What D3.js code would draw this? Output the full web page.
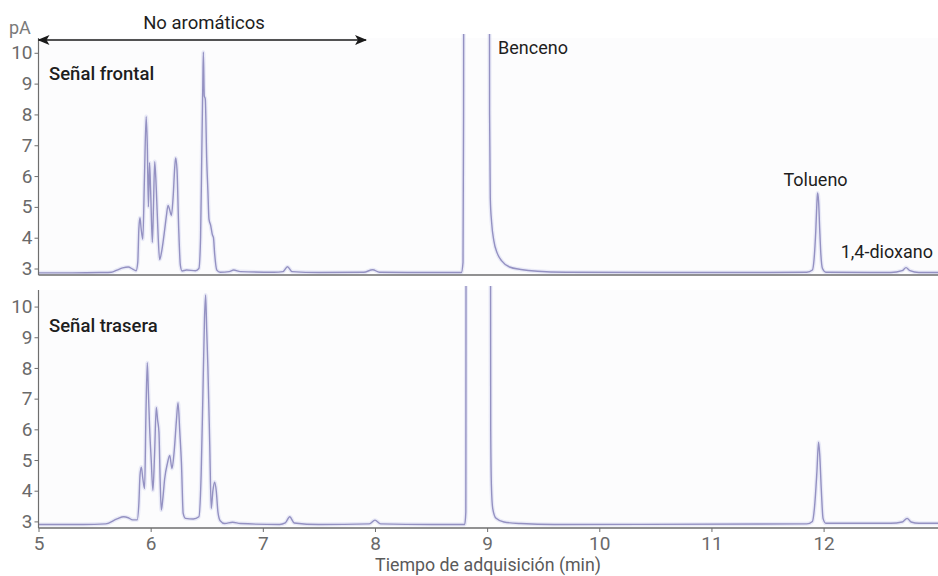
<!DOCTYPE html>
<html>
<head>
<meta charset="utf-8">
<script src="https://cdn.jsdelivr.net/npm/d3@7"></script>
<style>
  html, body { margin: 0; padding: 0; background: #ffffff; }
  svg { display: block; font-family: Roboto, "Noto Sans", sans-serif; }
</style>
</head>
<body>
<svg id="chart" width="938" height="576"></svg>
<script>
// Retention time (min) and detector signal (pA) for the front channel
const frontTime = [
  5.00, 5.30, 5.55, 5.65, 5.70, 5.75, 5.80, 5.84, 5.87, 5.885, 5.895, 5.905, 5.915, 5.93,
  5.945, 5.96, 5.97, 5.98, 5.99, 6.00, 6.015, 6.025, 6.036, 6.05, 6.065, 6.08, 6.10, 6.125,
  6.14, 6.155, 6.17, 6.185, 6.20, 6.215, 6.223, 6.235, 6.25, 6.265, 6.28, 6.32, 6.40, 6.43,
  6.445, 6.455, 6.465, 6.47, 6.478, 6.487, 6.50, 6.51, 6.52, 6.535, 6.55, 6.56, 6.57, 6.59,
  6.62, 6.70, 6.74, 6.80, 7.10, 7.18, 7.22, 7.26, 7.50, 7.90, 7.98, 8.04, 8.50, 8.77,
  8.785, 8.79, 8.795, 9.015, 9.022, 9.028, 9.04, 9.06, 9.09, 9.13, 9.20, 9.30, 9.45, 9.70,
  10.50, 11.50, 11.85, 11.90, 11.915, 11.93, 11.94, 11.946, 11.955, 11.965, 11.975, 11.99,
  12.02, 12.60, 12.70, 12.735, 12.77, 12.85, 13.02
];
const frontSignal = [
  2.86, 2.86, 2.87, 2.88, 2.95, 3.02, 3.05, 2.98, 2.93, 3.20, 4.30, 4.65, 4.30, 3.95,
  6.00, 7.93, 7.00, 5.00, 6.43, 5.50, 3.85, 5.00, 6.47, 5.60, 4.20, 3.29, 3.60, 4.26,
  4.70, 5.05, 4.90, 4.72, 5.30, 6.30, 6.59, 6.20, 4.30, 3.10, 2.92, 2.95, 2.93, 3.00,
  4.00, 6.50, 9.00, 10.02, 8.60, 8.50, 6.50, 5.55, 4.60, 4.40, 4.10, 4.00, 3.50, 2.95,
  2.88, 2.90, 2.95, 2.90, 2.88, 2.90, 3.06, 2.90, 2.87, 2.88, 2.96, 2.88, 2.87, 2.87,
  3.20, 8.00, 30.0, 30.0, 8.00, 5.30, 4.50, 3.90, 3.50, 3.25, 3.05, 2.97, 2.91, 2.88,
  2.87, 2.87, 2.88, 2.95, 3.30, 4.20, 5.10, 5.45, 5.20, 4.30, 3.50, 3.00,
  2.88, 2.87, 2.93, 3.03, 2.93, 2.87, 2.87
];

// Retention time (min) and detector signal (pA) for the rear channel
const rearTime = [
  5.00, 5.40, 5.60, 5.70, 5.76, 5.80, 5.84, 5.88, 5.895, 5.905, 5.917, 5.93, 5.946, 5.958,
  5.97, 5.98, 5.99, 6.005, 6.02, 6.035, 6.05, 6.062, 6.074, 6.085, 6.095, 6.11, 6.125, 6.15,
  6.17, 6.19, 6.21, 6.23, 6.244, 6.26, 6.275, 6.29, 6.31, 6.38, 6.43, 6.45, 6.465, 6.48,
  6.49, 6.50, 6.51, 6.527, 6.54, 6.555, 6.57, 6.585, 6.60, 6.62, 6.66, 6.73, 6.80, 7.15,
  7.20, 7.24, 7.28, 7.50, 7.95, 8.00, 8.05, 8.50, 8.80, 8.81, 8.815, 9.025, 9.032, 9.038,
  9.05, 9.08, 9.15, 9.30, 9.60, 11.85, 11.90, 11.92, 11.94, 11.955, 11.965, 11.98, 11.995,
  12.02, 12.60, 12.70, 12.745, 12.78, 12.85, 13.02
];
const rearSignal = [
  2.90, 2.90, 2.92, 3.08, 3.15, 3.12, 3.05, 3.05, 3.60, 4.50, 4.77, 4.40, 4.07, 6.50,
  8.17, 7.20, 6.12, 5.00, 4.01, 5.20, 6.71, 6.30, 5.90, 4.30, 3.37, 3.80, 4.39, 4.90,
  5.15, 4.72, 5.30, 6.30, 6.87, 5.90, 4.85, 3.26, 3.10, 3.08, 3.15, 4.50, 7.00, 9.60,
  10.38, 9.20, 8.06, 5.47, 3.42, 4.00, 4.28, 3.99, 3.30, 3.02, 2.93, 2.97, 2.93, 2.90,
  2.95, 3.15, 2.95, 2.90, 2.92, 3.04, 2.92, 2.90, 2.90, 3.30, 30.0, 30.0, 6.00, 4.18,
  3.42, 3.10, 2.98, 2.93, 2.90, 2.92, 3.00, 3.50, 4.60, 5.58, 5.20, 4.00, 3.10,
  2.94, 2.94, 2.98, 3.10, 2.98, 2.94, 2.94
];

const timeTicks = [5, 6, 7, 8, 9, 10, 11, 12];
const signalTicks = [3, 4, 5, 6, 7, 8, 9, 10];
const panelNames = ["Señal frontal", "Señal trasera"];
const peakNames = ["Benceno", "Tolueno", "1,4-dioxano"];
const noAromaticRange = [5, 7.92];
const noAromaticLabel = "No aromáticos";
const yUnit = "pA";
const xTitle = "Tiempo de adquisición (min)";

const svg = d3.select("#chart");
const W = 938;
const left = 38.5;

const x = d3.scaleLinear().domain([5, 13.02]).range([left, W]);

const panels = [
  { top: 38, bottom: 275, domain: [2.79, 10.48], t: frontTime, v: frontSignal, name: panelNames[0] },
  { top: 290, bottom: 528, domain: [2.785, 10.54], t: rearTime, v: rearSignal, name: panelNames[1] }
];

const lineColor = "#9491c2";
const axisColor = "#6e6e6e";
const tickTextColor = "#6a6a6a";
const tickFont = "19px";

panels.forEach((p, i) => {
  const y = d3.scaleLinear().domain(p.domain).range([p.bottom, p.top]);
  p.y = y;
  const g = svg.append("g");

  g.append("rect")
    .attr("x", left).attr("y", p.top)
    .attr("width", W - left).attr("height", p.bottom - p.top)
    .attr("fill", "#fcfcfd");

  const clipId = "clip" + i;
  svg.append("clipPath").attr("id", clipId)
    .append("rect")
    .attr("x", left).attr("y", p.top - 4)
    .attr("width", W - left).attr("height", p.bottom - p.top + 4);

  const pts = p.t.map((t, k) => [t, p.v[k]]);
  const line = d3.line()
    .x(d => x(d[0]))
    .y(d => y(d[1]))
    .curve(d3.curveMonotoneX);

  const lg = g.append("g").attr("clip-path", `url(#${clipId})`);
  lg.append("path")
    .datum(pts)
    .attr("d", line)
    .attr("fill", "none")
    .attr("stroke", "#d6d8f2")
    .attr("stroke-width", 4)
    .attr("stroke-opacity", 0.5)
    .attr("stroke-linejoin", "round");
  lg.append("path")
    .datum(pts)
    .attr("d", line)
    .attr("fill", "none")
    .attr("stroke", lineColor)
    .attr("stroke-width", 1.4)
    .attr("stroke-linejoin", "round");

  // signal axis
  const yAxis = g.append("g")
    .attr("transform", `translate(${left},0)`)
    .call(d3.axisLeft(y).tickValues(signalTicks).tickSize(4).tickPadding(2).tickFormat(d3.format("d")));
  yAxis.select(".domain").remove();
  yAxis.selectAll("line").attr("stroke", axisColor);
  yAxis.selectAll("text")
    .attr("fill", tickTextColor)
    .style("font-size", tickFont)
    .style("font-family", "Roboto, sans-serif");
  g.append("line")
    .attr("x1", left).attr("x2", left)
    .attr("y1", p.top).attr("y2", p.bottom)
    .attr("stroke", axisColor).attr("stroke-width", 1.2);

  // baseline axis line
  g.append("line")
    .attr("x1", left).attr("x2", W)
    .attr("y1", p.bottom).attr("y2", p.bottom)
    .attr("stroke", axisColor).attr("stroke-width", 1.6);

  g.append("text")
    .attr("x", 49).attr("y", p.top + 42)
    .attr("fill", "#1e1e1e")
    .style("font-size", "18.5px")
    .style("font-weight", 500)
    .text(p.name);
});

// time axis under the rear panel
const xAxis = svg.append("g")
  .attr("transform", `translate(0,${panels[1].bottom})`)
  .call(d3.axisBottom(x).tickValues(timeTicks).tickSize(4).tickPadding(5).tickFormat(d3.format("d")));
xAxis.select(".domain").remove();
xAxis.selectAll("line").attr("stroke", axisColor);
xAxis.selectAll("text")
  .attr("fill", tickTextColor)
  .style("font-size", tickFont)
  .style("font-family", "Roboto, sans-serif");

svg.append("text")
  .attr("x", 488).attr("y", 571)
  .attr("text-anchor", "middle")
  .attr("fill", "#5a5a5a")
  .style("font-size", "17.8px")
  .text(xTitle);

svg.append("text")
  .attr("x", 9).attr("y", 34)
  .attr("fill", "#7a7a7a")
  .style("font-size", "18px")
  .text(yUnit);

// peak labels on the front panel
const fy = panels[0].y;
const peakLabels = [
  { name: peakNames[0], t: 9.035, v: 9.97, anchor: "start", dx: 7 },
  { name: peakNames[1], t: 11.946, v: 5.68, anchor: "middle", dx: -2 },
  { name: peakNames[2], t: 13.02, v: 3.33, anchor: "end", dx: -5 }
];
peakLabels.forEach(d => {
  svg.append("text")
    .attr("x", x(d.t) + d.dx)
    .attr("y", fy(d.v))
    .attr("text-anchor", d.anchor)
    .attr("fill", "#1e1e1e")
    .style("font-size", "18px")
    .text(d.name);
});

// span of the non-aromatic compounds
const defs = svg.append("defs");
["arrEnd", "arrStart"].forEach((id, k) => {
  defs.append("marker")
    .attr("id", id)
    .attr("viewBox", "0 0 12 10")
    .attr("refX", 11).attr("refY", 5)
    .attr("markerWidth", 12).attr("markerHeight", 10)
    .attr("markerUnits", "userSpaceOnUse")
    .attr("orient", k === 0 ? "auto" : "auto-start-reverse")
    .append("path")
    .attr("d", "M0,0 L12,5 L0,10 L3,5 Z")
    .attr("fill", "#1a1a1a");
});
svg.append("line")
  .attr("x1", x(noAromaticRange[0])).attr("x2", x(noAromaticRange[1]))
  .attr("y1", 40).attr("y2", 40)
  .attr("stroke", "#1a1a1a").attr("stroke-width", 1.5)
  .attr("marker-start", "url(#arrStart)")
  .attr("marker-end", "url(#arrEnd)");
svg.append("text")
  .attr("x", 204)
  .attr("y", 29)
  .attr("text-anchor", "middle")
  .attr("fill", "#1e1e1e")
  .style("font-size", "18.5px")
  .text(noAromaticLabel);
</script>
</body>
</html>
